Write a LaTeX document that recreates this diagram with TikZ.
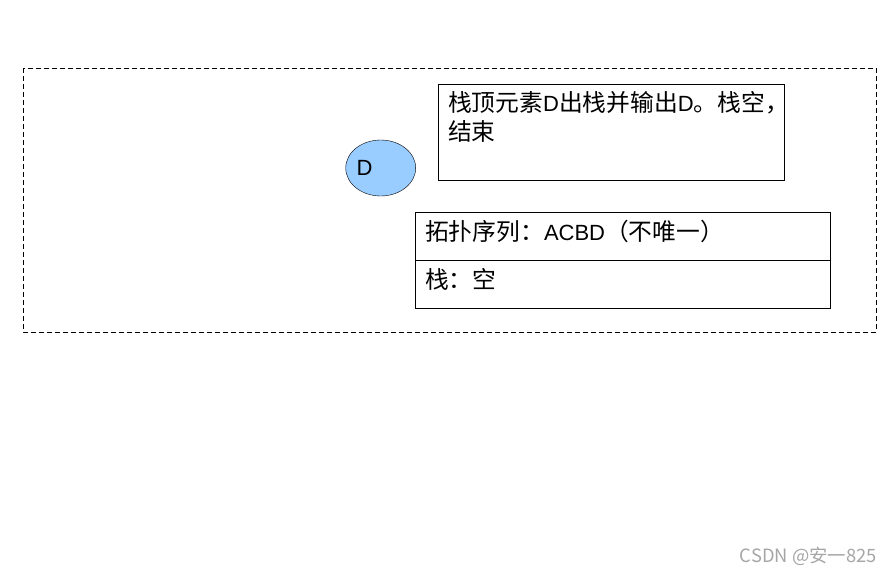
\documentclass[tikz,border=0pt]{standalone}
\usepackage{fontspec}
\usepackage{xcolor}
\setmainfont{Liberation Sans}
\newfontfamily\cjk[Scale=1.08]{Noto Sans CJK SC}
\definecolor{nodeblue}{HTML}{99CCFF}
\definecolor{markgray}{HTML}{A6A6A6}

\begin{document}
\begin{tikzpicture}[x=1pt,y=-1pt]
\tikzstyle{every node}+=[inner sep=0pt]
\tikzstyle{txt}=[anchor=base west, font=\fontsize{22}{28}\selectfont]
\useasboundingbox (0,0) rectangle (893,575);
% frame
\draw [black, dash pattern=on 5pt off 3pt] (23,68) rectangle (876,332);
% vertex D
\draw [black, fill=nodeblue] (380.7,168) ellipse (35 and 28);
\node [txt] (vd) at (356.5,175) {D};
% step text
\draw [black] (438.5,84.5) rectangle (784.5,180.5);
\node [txt] (pop1) at (448,112) {{\cjk 栈顶元素}D{\cjk 出栈并输出}D{\cjk 。栈空，}};
\node [txt] (pop2) at (448,140) {{\cjk 结束}};
% result table
\draw [black] (415.5,212.5) rectangle (830.5,308.5);
\draw [black] (415.5,260.5) -- (830.5,260.5);
\node [txt] (topo) at (425,240) {{\cjk 拓扑序列：}ACBD{\cjk （不唯一）}};
\node [txt] (stk) at (425,288) {{\cjk 栈：空}};
% watermark
\node [anchor=base east, text=markgray, font=\fontsize{17}{20}\selectfont] (mark) at (877,562) {{\cjk CSDN @安一825}};
\end{tikzpicture}
\end{document}
